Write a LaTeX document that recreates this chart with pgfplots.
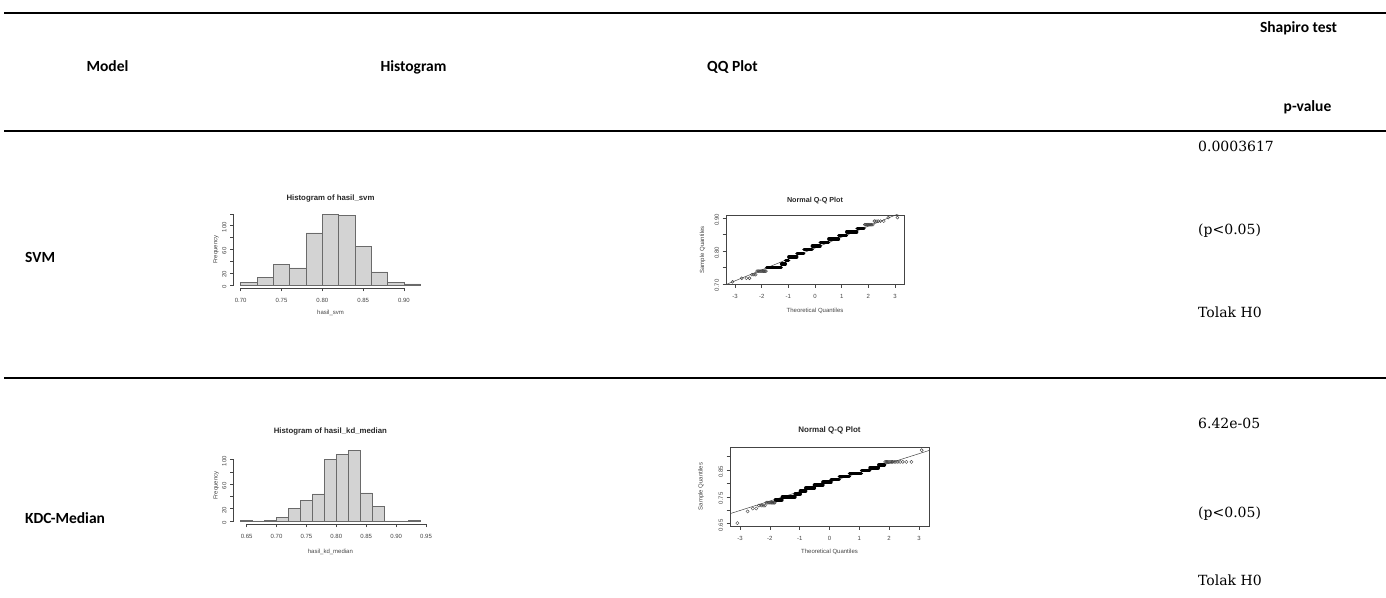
\documentclass[border=0pt]{standalone}
\usepackage{pgfplots}
\usepackage{pgfplotstable}
\pgfplotsset{compat=1.18}
\usepackage{fontspec}
\setmainfont{DejaVu Serif}
\newfontfamily\hdr{Carlito}
\newfontfamily\rsans{Liberation Sans}
\definecolor{rbar}{HTML}{D3D3D3}
\definecolor{rtext}{HTML}{444444}
\definecolor{redge}{HTML}{6A6A6A}
\newcommand\rtick{\rsans\fontsize{6}{7}\selectfont}
\newcommand\rtitle{\rsans\bfseries\fontsize{7.8}{9}\selectfont}
\newcommand\hfont{\hdr\bfseries\fontsize{15.5}{18}\selectfont}
\newcommand\vfont{\fontsize{14}{17}\selectfont}

% ---------------- data ----------------
\pgfplotstableread{
x y
-1.812 0.7500
-1.265 0.7500
nan nan
-1.254 0.7609
-1.113 0.7609
nan nan
-1.103 0.7717
-0.990 0.7717
nan nan
-0.982 0.7826
-0.684 0.7826
nan nan
-0.678 0.7935
-0.421 0.7935
nan nan
-0.415 0.8043
-0.108 0.8043
nan nan
-0.103 0.8152
0.189 0.8152
nan nan
0.194 0.8261
0.510 0.8261
nan nan
0.516 0.8370
0.882 0.8370
nan nan
0.889 0.8478
1.180 0.8478
nan nan
1.190 0.8587
1.563 0.8587
nan nan
1.580 0.8696
1.838 0.8696
}\qqasteps

\pgfplotstableread{
x y
-3.090 0.7065
-2.748 0.7174
-2.576 0.7174
-2.457 0.7174
-2.366 0.7283
-2.290 0.7283
-2.226 0.7283
-2.170 0.7391
-2.120 0.7391
-2.075 0.7391
-2.034 0.7391
-1.995 0.7391
-1.960 0.7391
-1.927 0.7391
-1.896 0.7391
-1.866 0.7391
-1.838 0.7391
1.866 0.8804
1.896 0.8804
1.927 0.8804
1.960 0.8804
1.995 0.8804
2.034 0.8804
2.075 0.8804
2.120 0.8804
2.170 0.8804
2.226 0.8913
2.290 0.8913
2.366 0.8913
2.457 0.8913
2.576 0.8913
2.748 0.9022
3.090 0.9022
}\qqapts

\pgfplotstableread{
x y
-1.812 0.7391
-1.598 0.7391
nan nan
-1.580 0.7500
-1.160 0.7500
nan nan
-1.150 0.7609
-0.982 0.7609
nan nan
-0.974 0.7717
-0.803 0.7717
nan nan
-0.796 0.7826
-0.510 0.7826
nan nan
-0.504 0.7935
-0.225 0.7935
nan nan
-0.220 0.8043
0.048 0.8043
nan nan
0.053 0.8152
0.324 0.8152
nan nan
0.329 0.8261
0.665 0.8261
nan nan
0.671 0.8370
1.067 0.8370
nan nan
1.076 0.8478
1.347 0.8478
nan nan
1.360 0.8587
1.635 0.8587
nan nan
1.655 0.8696
1.838 0.8696
}\qqbsteps

\pgfplotstableread{
x y
-3.090 0.6522
-2.748 0.6957
-2.576 0.7065
-2.457 0.7065
-2.366 0.7174
-2.290 0.7174
-2.226 0.7174
-2.170 0.7174
-2.120 0.7283
-2.075 0.7283
-2.034 0.7283
-1.995 0.7283
-1.960 0.7283
-1.927 0.7283
-1.896 0.7283
-1.866 0.7283
-1.838 0.7283
1.866 0.8804
1.896 0.8804
1.927 0.8804
1.960 0.8804
1.995 0.8804
2.034 0.8804
2.075 0.8804
2.120 0.8804
2.170 0.8804
2.226 0.8804
2.290 0.8804
2.366 0.8804
2.457 0.8804
2.576 0.8804
2.748 0.8804
3.090 0.9239
}\qqbpts

\pgfplotsset{
  rbase/.style={
    scale only axis, anchor=south west,
    tick align=outside, major tick length=3.5pt,
    tick style={rtext, line width=0.45pt},
    xtick pos=left, ytick pos=left,
    every axis title shift=0pt,
    /pgf/number format/assume math mode=true,
    xticklabel style={font=\rtick, text=rtext, yshift=-3pt},
    yticklabel style={font=\rtick, text=rtext, rotate=90, anchor=south, xshift=-1.5pt},
    xlabel style={font=\rtick, text=rtext, anchor=center},
    ylabel style={font=\rtick, text=rtext, anchor=center},
    title style={font=\rtitle, text=black!85, anchor=center},
  },
  rhist/.style={rbase, clip=false,
    axis x line*=bottom, axis y line*=left, axis line style={draw=none}},
  rqq/.style={rbase, axis line style={rtext, line width=0.5pt},
    xmin=-3.337, xmax=3.337,
    xtick={-3,-2,-1,0,1,2,3}, xticklabels={-3,-2,-1,0,1,2,3},
    xlabel={Theoretical Quantiles}, ylabel={Sample Quantiles},
    title={Normal Q-Q Plot}},
}

\begin{document}
\begin{tikzpicture}[x=1pt,y=1pt]
\useasboundingbox (0,0) rectangle (1386,597);

% ---------- table rules ----------
\draw[line width=2pt] (4,584) -- (1386,584);
\draw[line width=2pt] (4,466) -- (1386,466);
\draw[line width=2pt] (4,219) -- (1386,219);

% ---------- header ----------
\node[font=\hfont, anchor=base] at (107.5,525) {Model};
\node[font=\hfont, anchor=base] at (413.5,525) {Histogram};
\node[font=\hfont, anchor=base] at (732.5,525) {QQ Plot};
\node[font=\hfont, anchor=base] at (1298.5,564) {Shapiro test};
\node[font=\hfont, anchor=base] at (1307.5,485) {p-value};

% ---------- row labels ----------
\node[font=\hfont, anchor=base west, inner sep=0pt] at (25,334) {SVM};
\node[font=\hfont, anchor=base west, inner sep=0pt] at (25,74) {KDC-Median};

% ---------- p-values ----------
\node[font=\vfont, anchor=base west, inner sep=0pt] at (1198,445) {0.0003617};
\node[font=\vfont, anchor=base west, inner sep=0pt] at (1198,362) {(p<0.05)};
\node[font=\vfont, anchor=base west, inner sep=0pt] at (1198,279) {Tolak H0};
\node[font=\vfont, anchor=base west, inner sep=0pt] at (1198,168) {6.42e-05};
\node[font=\vfont, anchor=base west, inner sep=0pt] at (1198,80) {(p<0.05)};
\node[font=\vfont, anchor=base west, inner sep=0pt] at (1198,12) {Tolak H0};

% ---------- Histogram SVM ----------
\begin{axis}[rhist, at={(233.5pt,309.2pt)}, width=194pt, height=76.2pt,
  xmin=0.6912, xmax=0.9288, ymin=-4.76, ymax=123.8,
  xtick={0.70,0.75,0.80,0.85,0.90}, xticklabels={0.70,0.75,0.80,0.85,0.90},
  ytick={0,20,40,60,80,100,120}, yticklabels={0,20,,60,,100,},
  title={Histogram of hasil\_svm}, xlabel={hasil\_svm}, ylabel={Frequency},
  title style={at={(axis description cs:0.5,1.178)}},
  xlabel style={at={(axis description cs:0.5,-0.331)}},
  ylabel style={at={(axis description cs:-0.09,0.5)}}]
\addplot[ybar interval, fill=rbar, draw=redge, line width=0.5pt] coordinates {
 (0.70,4) (0.72,13) (0.74,35) (0.76,29) (0.78,88) (0.80,119)
 (0.82,118) (0.84,65) (0.86,22) (0.88,5) (0.90,2) (0.92,0)};
\draw[rtext, line width=0.45pt] (axis cs:0.70,-4.76) -- (axis cs:0.90,-4.76);
\draw[rtext, line width=0.45pt] (axis cs:0.6912,0) -- (axis cs:0.6912,120);
\end{axis}

% ---------- Histogram KDC-Median ----------
\begin{axis}[rhist, at={(233.5pt,73.2pt)}, width=193.7pt, height=76.2pt,
  xmin=0.628, xmax=0.952, ymin=-4.6, ymax=119.6,
  xtick={0.65,0.70,0.75,0.80,0.85,0.90,0.95}, xticklabels={0.65,0.70,0.75,0.80,0.85,0.90,0.95},
  ytick={0,20,40,60,80,100}, yticklabels={0,20,,60,,100},
  title={Histogram of hasil\_kd\_median}, xlabel={hasil\_kd\_median}, ylabel={Frequency},
  title style={at={(axis description cs:0.5,1.209)}},
  xlabel style={at={(axis description cs:0.5,-0.366)}},
  ylabel style={at={(axis description cs:-0.09,0.5)}}]
\addplot[ybar interval, fill=rbar, draw=redge, line width=0.5pt] coordinates {
 (0.64,1) (0.66,0) (0.68,1) (0.70,6) (0.72,20) (0.74,34) (0.76,44) (0.78,100)
 (0.80,108) (0.82,115) (0.84,46) (0.86,24) (0.88,0) (0.90,0) (0.92,1) (0.94,0)};
\draw[rtext, line width=0.45pt] (axis cs:0.65,-4.6) -- (axis cs:0.95,-4.6);
\draw[rtext, line width=0.45pt] (axis cs:0.628,0) -- (axis cs:0.628,100);
\end{axis}

% ---------- QQ SVM ----------
\begin{axis}[rqq, at={(726pt,312.6pt)}, width=178pt, height=69.4pt,
  ymin=0.6987, ymax=0.9100,
  ytick={0.70,0.75,0.80,0.85,0.90}, yticklabels={0.70,,0.80,,0.90},
  title style={font=\rsans\bfseries\fontsize{7.2}{9}\selectfont, at={(axis description cs:0.5,1.206)}},
  xlabel style={at={(axis description cs:0.5,-0.383)}},
  ylabel style={at={(axis description cs:-0.131,0.5)}}]
\addplot[rtext, line width=0.5pt] coordinates {(-3.5,0.6928) (3.5,0.9259)};
\addplot[black, line width=3.4pt, line cap=round, unbounded coords=jump] table {\qqasteps};
\addplot[only marks, mark=o, mark size=1.5pt, mark options={draw=black!75, line width=0.4pt}] table {\qqapts};
\end{axis}

% ---------- QQ KDC-Median ----------
\begin{axis}[rqq, at={(730pt,71pt)}, width=199pt, height=78.7pt,
  ymin=0.6413, ymax=0.9348,
  ytick={0.65,0.70,0.75,0.80,0.85,0.90}, yticklabels={0.65,,0.75,,0.85,},
  title style={font=\rsans\bfseries\fontsize{8}{10}\selectfont, at={(axis description cs:0.5,1.211)}},
  xlabel style={at={(axis description cs:0.5,-0.33)}},
  ylabel style={at={(axis description cs:-0.146,0.5)}}]
\addplot[rtext, line width=0.5pt] coordinates {(-3.5,0.6815) (3.5,0.9286)};
\addplot[black, line width=3.6pt, line cap=round, unbounded coords=jump] table {\qqbsteps};
\addplot[only marks, mark=o, mark size=1.6pt, mark options={draw=black!75, line width=0.4pt}] table {\qqbpts};
\end{axis}
\end{tikzpicture}
\end{document}
